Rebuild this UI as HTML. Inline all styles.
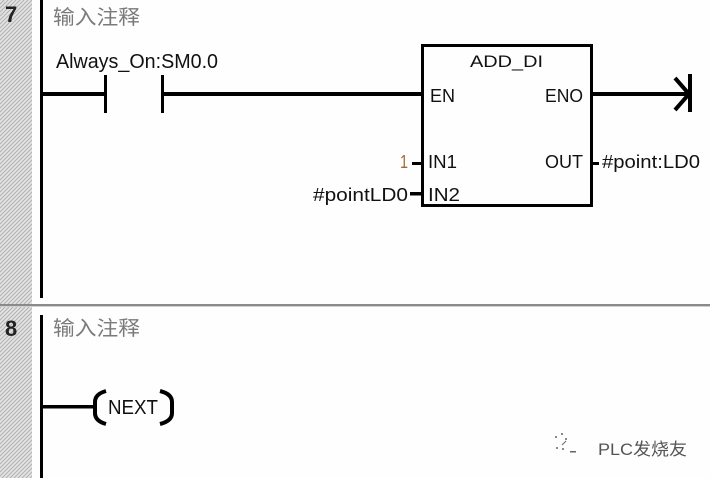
<!DOCTYPE html>
<html><head><meta charset="utf-8"><style>
html,body{margin:0;padding:0;background:#fff;}
svg{display:block;}
text{font-family:"Liberation Sans","Noto Sans CJK SC",sans-serif;}
</style></head><body>
<svg width="710" height="478" viewBox="0 0 710 478" xmlns="http://www.w3.org/2000/svg">
<defs>
<pattern id="h" width="4" height="4" patternUnits="userSpaceOnUse">
<rect width="4" height="4" fill="#e4e4e4"/>
<path d="M-1 1L1 -1M0 4L4 0M3 5L5 3" stroke="#b0b0b0" stroke-width="1"/>
</pattern>
</defs>
<rect x="0" y="0" width="710" height="478" fill="#fefefe"/>
<rect x="0" y="0" width="32" height="478" fill="url(#h)"/>
<rect x="0" y="304" width="710" height="2" fill="#8a8a8a"/>
<rect x="0" y="306" width="710" height="1" fill="#d0d0d0"/>

<text x="5" y="22" font-size="22" font-weight="bold" fill="#222">7</text>
<text x="5" y="336" font-size="22" font-weight="bold" fill="#222">8</text>

<rect x="40" y="0" width="3" height="298" fill="#000"/>
<rect x="40" y="315" width="3" height="163" fill="#000"/>

<text x="53" y="24" font-size="20" fill="#7a7a7a" textLength="87" lengthAdjust="spacingAndGlyphs">输入注释</text>
<text x="53" y="335" font-size="20" fill="#7a7a7a" textLength="87" lengthAdjust="spacingAndGlyphs">输入注释</text>

<text x="56" y="68" font-size="20" fill="#111" textLength="162" lengthAdjust="spacingAndGlyphs">Always_On:SM0.0</text>
<rect x="43" y="92" width="61" height="4" fill="#000"/>
<rect x="104" y="75" width="3" height="38" fill="#000"/>
<rect x="161" y="75" width="3" height="38" fill="#000"/>
<rect x="164" y="92" width="258" height="4" fill="#000"/>

<rect x="422.5" y="45.5" width="169" height="160" fill="none" stroke="#000" stroke-width="3"/>
<text x="470" y="67" font-size="17" fill="#111" textLength="73" lengthAdjust="spacingAndGlyphs">ADD_DI</text>
<text x="430" y="102" font-size="18" fill="#111" textLength="25" lengthAdjust="spacingAndGlyphs">EN</text>
<text x="545" y="102" font-size="18" fill="#111" textLength="38" lengthAdjust="spacingAndGlyphs">ENO</text>
<text x="428" y="168" font-size="18" fill="#111" textLength="29" lengthAdjust="spacingAndGlyphs">IN1</text>
<text x="428" y="201" font-size="18" fill="#111" textLength="32" lengthAdjust="spacingAndGlyphs">IN2</text>
<text x="545" y="168" font-size="18" fill="#111" textLength="38" lengthAdjust="spacingAndGlyphs">OUT</text>

<rect x="412" y="162" width="9" height="3" fill="#000"/>
<rect x="410" y="192" width="11" height="3.5" fill="#000"/>
<rect x="593" y="162" width="6" height="3" fill="#000"/>

<text x="400" y="168" font-size="18" fill="#a06a30" textLength="8" lengthAdjust="spacingAndGlyphs">1</text>
<text x="313" y="201" font-size="18" fill="#111" textLength="95" lengthAdjust="spacingAndGlyphs">#pointLD0</text>
<text x="602" y="168" font-size="18" fill="#111" textLength="98" lengthAdjust="spacingAndGlyphs">#point:LD0</text>

<rect x="593" y="92" width="95" height="4" fill="#000"/>
<rect x="688" y="74" width="4" height="38" fill="#000"/>
<polyline points="675,78 689,94 675,110" fill="none" stroke="#000" stroke-width="4"/>

<rect x="43" y="405" width="52" height="3.5" fill="#000"/>
<path d="M106 391 Q95 394 95 402 L95 413 Q95 421 106 424" fill="none" stroke="#000" stroke-width="4"/>
<path d="M160 391 Q172 394 172 402 L172 413 Q172 421 160 424" fill="none" stroke="#000" stroke-width="4"/>
<text x="108" y="414" font-size="20" fill="#111" textLength="50" lengthAdjust="spacingAndGlyphs">NEXT</text>

<g fill="#666">
<circle cx="556" cy="437" r="1"/><circle cx="562" cy="434" r="1"/><circle cx="566" cy="439" r="1"/>
<circle cx="557" cy="448" r="1"/><circle cx="563" cy="449" r="1"/>
<rect x="570" y="451" width="6" height="1.5"/>
<path d="M562 445 L566 441" stroke="#666" stroke-width="1"/>
</g>
<text x="598" y="455" font-size="17" fill="#555" textLength="89" lengthAdjust="spacingAndGlyphs">PLC发烧友</text>
</svg>
</body></html>
